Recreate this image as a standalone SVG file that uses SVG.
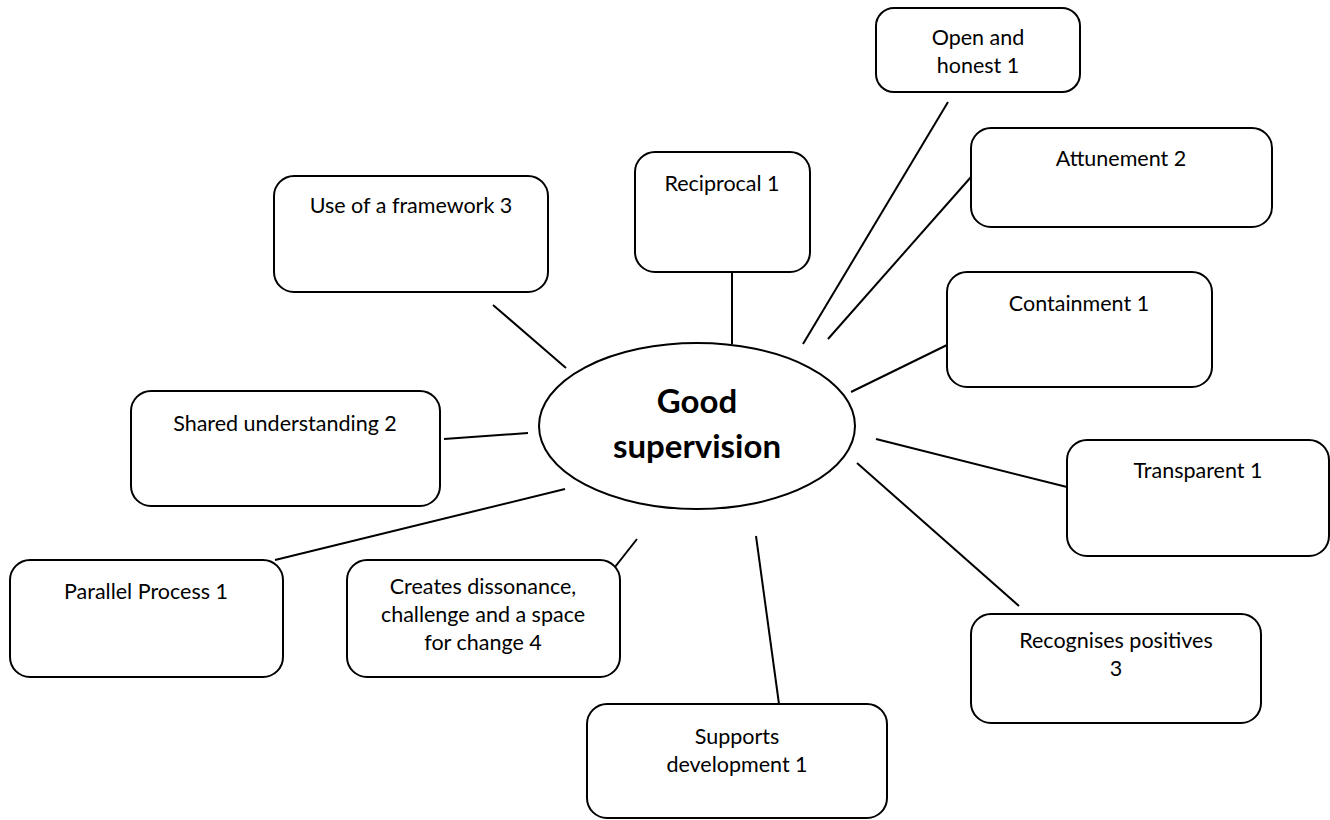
<svg xmlns="http://www.w3.org/2000/svg" width="1330" height="820" viewBox="0 0 1330 820">
  <style>
    .box { fill: #ffffff; stroke: #000000; stroke-width: 2; }
    .hub { fill: #ffffff; stroke: #000000; stroke-width: 2; }
    .link { stroke: #000000; stroke-width: 2; fill: none; }
    .lbl { font-family: Lato, "Open Sans", "Liberation Sans", sans-serif; font-size: 21.5px; fill: #000000; text-anchor: middle; }
    .hubtxt { font-family: Lato, "Open Sans", "Liberation Sans", sans-serif; font-size: 33px; font-weight: bold; fill: #000000; text-anchor: middle; }
  </style>
  <rect width="1330" height="820" fill="#ffffff"/>

  <!-- spokes from the central ellipse to each box -->
  <g id="connectors">
    <line class="link" x1="493" y1="305" x2="566" y2="368"/>
    <line class="link" x1="732" y1="272" x2="732" y2="344"/>
    <line class="link" x1="948" y1="102" x2="803" y2="344"/>
    <line class="link" x1="971" y1="177" x2="828" y2="339"/>
    <line class="link" x1="947" y1="345" x2="851" y2="392"/>
    <line class="link" x1="444" y1="439" x2="528" y2="433"/>
    <line class="link" x1="876" y1="439" x2="1067" y2="487"/>
    <line class="link" x1="275" y1="560" x2="565" y2="489"/>
    <line class="link" x1="615" y1="567" x2="637" y2="539"/>
    <line class="link" x1="756" y1="536" x2="779" y2="704"/>
    <line class="link" x1="857" y1="463" x2="1019" y2="606"/>
  </g>

  <g id="hub">
    <ellipse class="hub" cx="697" cy="426" rx="158" ry="83"/>
    <text class="hubtxt" x="697" y="413">Good</text>
    <text class="hubtxt" x="697" y="458">supervision</text>
  </g>

  <g id="open-honest">
    <rect class="box" x="876" y="8" width="204" height="84" rx="18"/>
    <text class="lbl" x="978" y="45">Open and</text>
    <text class="lbl" x="978" y="73">honest 1</text>
  </g>

  <g id="attunement">
    <rect class="box" x="971" y="128" width="301" height="99" rx="20"/>
    <text class="lbl" x="1121" y="166">Attunement 2</text>
  </g>

  <g id="reciprocal">
    <rect class="box" x="635" y="152" width="175" height="120" rx="20"/>
    <text class="lbl" x="722" y="191">Reciprocal 1</text>
  </g>

  <g id="framework">
    <rect class="box" x="274" y="176" width="274" height="116" rx="20"/>
    <text class="lbl" x="411" y="213">Use of a framework 3</text>
  </g>

  <g id="containment">
    <rect class="box" x="947" y="272" width="265" height="115" rx="20"/>
    <text class="lbl" x="1079" y="311">Containment 1</text>
  </g>

  <g id="shared-understanding">
    <rect class="box" x="131" y="391" width="309" height="115" rx="20"/>
    <text class="lbl" x="285" y="431">Shared understanding 2</text>
  </g>

  <g id="transparent">
    <rect class="box" x="1067" y="440" width="262" height="116" rx="20"/>
    <text class="lbl" x="1198" y="478">Transparent 1</text>
  </g>

  <g id="parallel-process">
    <rect class="box" x="10" y="560" width="273" height="117" rx="20"/>
    <text class="lbl" x="146" y="599">Parallel Process 1</text>
  </g>

  <g id="dissonance">
    <rect class="box" x="347" y="560" width="273" height="117" rx="20"/>
    <text class="lbl" x="483" y="594">Creates dissonance,</text>
    <text class="lbl" x="483" y="622">challenge and a space</text>
    <text class="lbl" x="483" y="650">for change 4</text>
  </g>

  <g id="recognises-positives">
    <rect class="box" x="971" y="614" width="290" height="109" rx="20"/>
    <text class="lbl" x="1116" y="648">Recognises positives</text>
    <text class="lbl" x="1116" y="676">3</text>
  </g>

  <g id="supports-development">
    <rect class="box" x="587" y="704" width="300" height="114" rx="20"/>
    <text class="lbl" x="737" y="744">Supports</text>
    <text class="lbl" x="737" y="772">development 1</text>
  </g>
</svg>
